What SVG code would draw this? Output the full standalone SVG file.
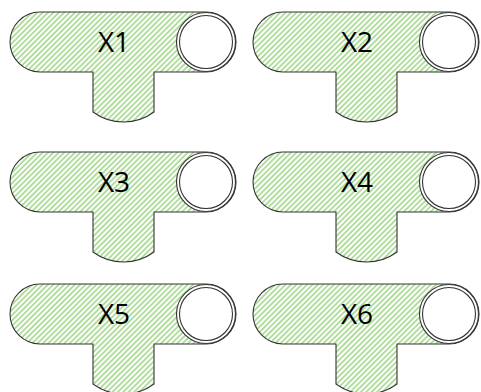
<svg xmlns="http://www.w3.org/2000/svg" xmlns:xlink="http://www.w3.org/1999/xlink" width="481" height="392" viewBox="0 0 481 392">
  <style>
    .body { fill: url(#hatch); stroke: #333333; stroke-width: 1.1; }
    .ring { fill: #ffffff; stroke: #333333; stroke-width: 1.1; }
    .lbl { font-family: "Open Sans", "Noto Sans", sans-serif; font-size: 28px; fill: #000000; text-anchor: middle; }
  </style>
  <defs>
    <pattern id="hatch" patternUnits="userSpaceOnUse" width="3.8" height="10" patternTransform="rotate(45)">
      <rect width="3.8" height="10" fill="#ffffff"/>
      <line x1="1" y1="0" x2="1" y2="10" stroke="#6cbf45" stroke-width="1"/>
    </pattern>
    <g id="tee">
      <path class="body" d="M 40 12 H 206 A 30 30 0 0 1 206 72 H 154 V 112 A 51.5 51.5 0 0 1 93 112 V 72 H 40 A 30 30 0 0 1 40 12 Z"/>
      <circle class="ring" cx="206" cy="42" r="29.5"/>
      <circle class="ring" cx="206" cy="42" r="26.5"/>
    </g>
  </defs>
  <g id="connectors"></g>
  <g id="X1">
    <use xlink:href="#tee" href="#tee"/>
    <text class="lbl" x="114" y="52">X1</text>
  </g>
  <g id="X2" transform="translate(243,0)">
    <use xlink:href="#tee" href="#tee"/>
    <text class="lbl" x="114" y="52">X2</text>
  </g>
  <g id="X3" transform="translate(0,140)">
    <use xlink:href="#tee" href="#tee"/>
    <text class="lbl" x="114" y="52">X3</text>
  </g>
  <g id="X4" transform="translate(243,140)">
    <use xlink:href="#tee" href="#tee"/>
    <text class="lbl" x="114" y="52">X4</text>
  </g>
  <g id="X5" transform="translate(0,272)">
    <use xlink:href="#tee" href="#tee"/>
    <text class="lbl" x="114" y="52">X5</text>
  </g>
  <g id="X6" transform="translate(243,272)">
    <use xlink:href="#tee" href="#tee"/>
    <text class="lbl" x="114" y="52">X6</text>
  </g>
</svg>
